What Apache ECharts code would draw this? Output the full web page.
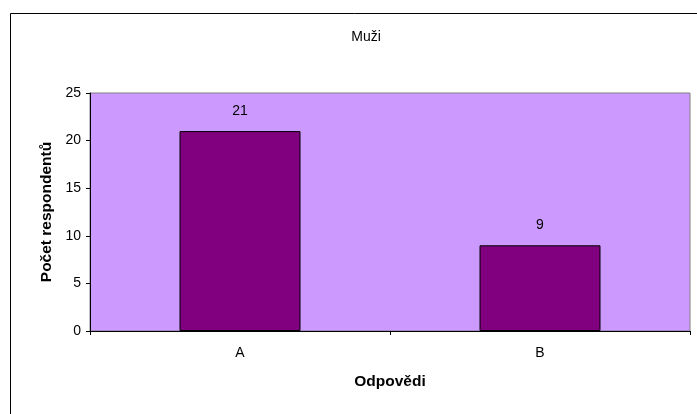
<!DOCTYPE html>
<html>
<head>
<meta charset="utf-8">
<script src="https://cdn.jsdelivr.net/npm/echarts@6/dist/echarts.min.js"></script>
<style>
  html, body { margin: 0; padding: 0; background: #fff; }
  #chart { width: 697px; height: 414px; }
</style>
</head>
<body>
<div id="chart"></div>
<script>
// data
const categories = ['A', 'B']
const values = [21, 9]
const yTicks = { min: 0, max: 25, interval: 5 }

const font = '"Liberation Sans", Arial, sans-serif'
const chart = echarts.init(document.getElementById('chart'), null, { renderer: 'canvas' })

chart.setOption({
  backgroundColor: '#ffffff',
  animation: false,
  // outer chart frame (extends past the right / bottom edge)
  graphic: [{
    type: 'rect',
    shape: { x: 10.5, y: 13.5, width: 720, height: 430 },
    style: { fill: 'none', stroke: '#000', lineWidth: 1 },
    silent: true,
  }],
  title: {
    text: 'Muži',
    left: 361,
    top: 25,
    textAlign: 'center',
    textStyle: { fontFamily: font, fontSize: 14, fontWeight: 'normal', color: '#000' },
  },
  grid: {
    left: 90,
    right: 7,
    top: 93,
    bottom: 83,
    show: true,
    backgroundColor: '#CC99FF',
    borderColor: '#808080',
    borderWidth: 1,
  },
  xAxis: {
    type: 'category',
    data: categories,
    boundaryGap: true,
    name: 'Odpovědi',
    nameLocation: 'middle',
    nameGap: 43,
    nameTextStyle: { fontFamily: font, fontSize: 15.5, fontWeight: 'bold', color: '#000' },
    axisLine: { show: true, lineStyle: { color: '#000', width: 1 } },
    axisTick: { show: true, length: 4, interval: 0, lineStyle: { color: '#000' } },
    axisLabel: { fontFamily: font, fontSize: 14, color: '#000', margin: 15 },
    splitLine: { show: false },
  },
  yAxis: {
    type: 'value',
    min: yTicks.min,
    max: yTicks.max,
    interval: yTicks.interval,
    name: 'Počet respondentů',
    nameLocation: 'middle',
    nameGap: 35,
    nameTextStyle: { fontFamily: font, fontSize: 15.5, fontWeight: 'bold', color: '#000' },
    axisLine: { show: true, lineStyle: { color: '#000', width: 1 } },
    axisTick: { show: true, length: 4, lineStyle: { color: '#000' } },
    axisLabel: { fontFamily: font, fontSize: 14, color: '#000', margin: 9 },
    splitLine: { show: false },
  },
  series: [{
    type: 'bar',
    data: values,
    barWidth: 121,
    itemStyle: { color: '#800080', borderColor: '#000', borderWidth: 1 },
    label: {
      show: true,
      position: 'top',
      distance: 13,
      fontFamily: font,
      fontSize: 14,
      color: '#000',
    },
  }],
})
</script>
</body>
</html>
